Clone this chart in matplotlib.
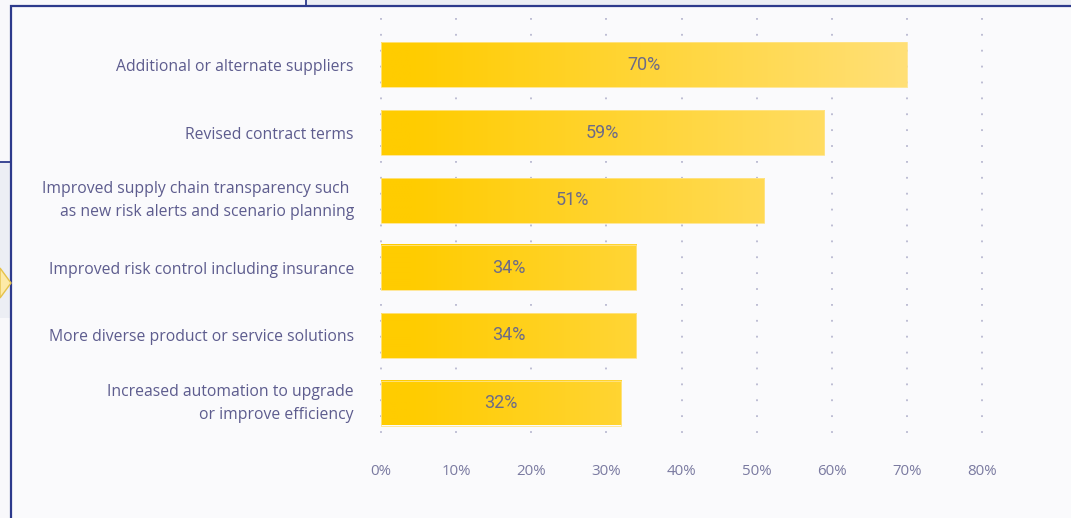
import numpy as np
import matplotlib
matplotlib.use("Agg")
import matplotlib.pyplot as plt
import matplotlib.transforms as mtransforms
from matplotlib.patches import Rectangle, Polygon
from matplotlib.colors import to_rgb

categories = [
    "Additional or alternate suppliers",
    "Revised contract terms",
    "Improved supply chain transparency such \nas new risk alerts and scenario planning",
    "Improved risk control including insurance",
    "More diverse product or service solutions",
    "Increased automation to upgrade\nor improve efficiency",
]
values = [70, 59, 51, 34, 34, 32]
xticks = [0, 10, 20, 30, 40, 50, 60, 70, 80]
xtick_labels = ["0%", "10%", "20%", "30%", "40%", "50%", "60%", "70%", "80%"]

W, H = 1071, 518
fig = plt.figure(figsize=(W / 100, H / 100), dpi=100)
fig.patch.set_facecolor("#f8f8fb")

def px(x, y):
    return x / W, 1 - y / H

# background decorations
fig.patches.append(Rectangle((0, 0), 1, 1, transform=fig.transFigure, facecolor="#f8f8fb", edgecolor="none", zorder=0))
fig.patches.append(Rectangle(px(306, 6), 1, 6 / H, transform=fig.transFigure, facecolor="#eceef4", edgecolor="none", zorder=0))
fig.patches.append(Rectangle(px(0, 318), 11 / W, 156 / H, transform=fig.transFigure, facecolor="#eceef4", edgecolor="none", zorder=0))
fig.add_artist(plt.Line2D([306 / W, 306 / W], [1, 1 - 6 / H], transform=fig.transFigure, color="#2d3a8c", lw=1.3))
fig.add_artist(plt.Line2D([0, 11 / W], [1 - 162 / H, 1 - 162 / H], transform=fig.transFigure, color="#2d3a8c", lw=1.3))
# frame
fig.patches.append(Rectangle(px(11, 520), 1.1, (520 - 6) / H, transform=fig.transFigure, facecolor="#fafafc", edgecolor="#2d3a8c", lw=1.6, zorder=1))
# arrow at left
arrow = Polygon([px(0, 268), px(11, 283), px(0, 298)], closed=True, transform=fig.transFigure,
                facecolor="#fdeaa8", edgecolor="#e6c24a", lw=1.0, zorder=2)
fig.patches.append(arrow)

left, right, top, bottom = 381, 982, 18, 440
ax = fig.add_axes([left / W, 1 - bottom / H, (right - left) / W, (bottom - top) / H])
ax.set_facecolor("none")
ax.set_zorder(3)

spacing = 67.6
ymin = -(65 - top) / spacing
ymax = (bottom - 65) / spacing

for x in xticks:
    ax.plot([x, x], [ymin, ymax], color="#b8b8d0", lw=1.3, linestyle=(0, (1, 7.8)),
            clip_on=False, zorder=1)

c0 = np.array(to_rgb("#ffcc00"))
c1 = np.array(to_rgb("#ffe07a"))
bh = 45 / spacing
for i, v in enumerate(values):
    xs = np.linspace(0, v, 256)
    t = np.clip((xs - 4) / (72 - 4), 0, 1)[:, None]
    rgb = (c0 * (1 - t) + c1 * t)[None, :, :]
    ax.imshow(rgb, aspect="auto", extent=(0, v, i + bh / 2, i - bh / 2), zorder=2,
              interpolation="bilinear")
    ax.add_patch(Rectangle((0, i - bh / 2), v, bh, facecolor="none", edgecolor="#ffe48a", lw=0.6, zorder=3))
    ax.text(v / 2, i, f"{v}%", ha="center", va="center", fontsize=13,
            family="Roboto", color="#6c6b88", zorder=4)

ax.set_xlim(0, 80)
ax.set_ylim(ymax, ymin)
for s in ax.spines.values():
    s.set_visible(False)
ax.set_xticks(xticks)
ax.set_xticklabels(xtick_labels, family="Open Sans", fontsize=10.8, color="#7a7aa0")
ax.set_yticks(range(len(categories)))
ax.set_yticklabels(categories, family="Open Sans", fontsize=11.3, color="#5d5c8e",
                   linespacing=1.55)
ax.tick_params(axis="x", length=0, pad=17)
ax.tick_params(axis="y", length=0, pad=19.5)
shift = mtransforms.ScaledTranslation(0, 3.5 / 72, fig.dpi_scale_trans)
for lbl in ax.get_yticklabels():
    if "\n" in lbl.get_text():
        lbl.set_transform(lbl.get_transform() + shift)

fig.savefig("out.png", dpi=100, facecolor=fig.get_facecolor())
